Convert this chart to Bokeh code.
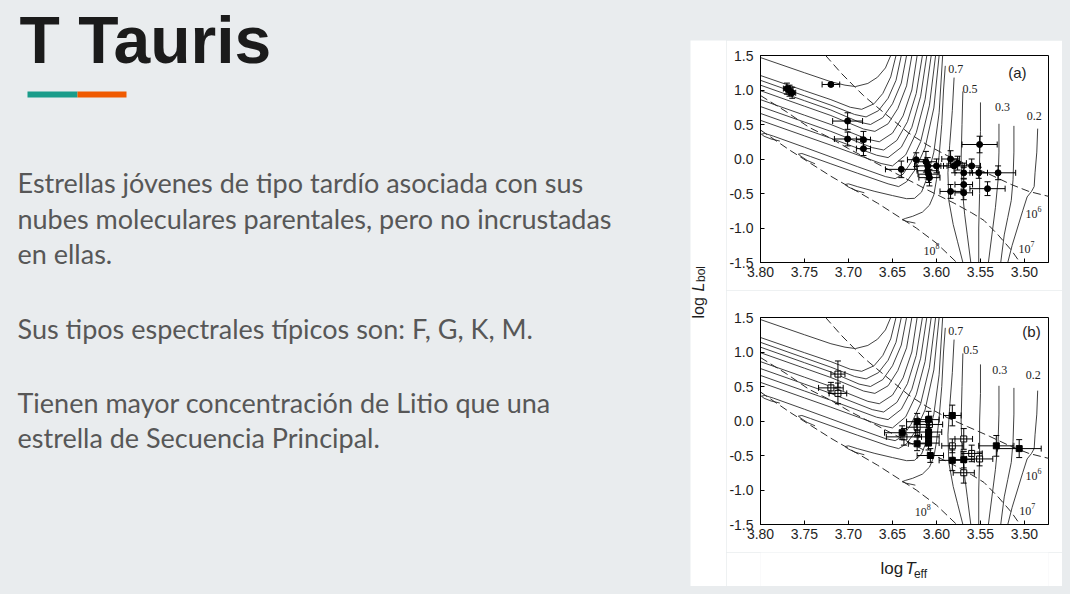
from math import pi

from bokeh.core.properties import value
from bokeh.embed import file_html
from bokeh.layouts import column, row
from bokeh.models import (ColumnDataSource, FixedTicker, GlobalInlineStyleSheet,
                          PrintfTickFormatter, Range1d, Spacer, TeeHead, Whisker)
from bokeh.plotting import figure
from bokeh.resources import INLINE

BG = "#e9ecee"
INK = "#2b2b2b"

# ---- slide text ----
title = "T Tauris"
body_lines = ["Estrellas jóvenes de tipo tardío asociada con sus",
              "nubes moleculares parentales, pero no incrustadas",
              "en ellas.",
              "Sus tipos espectrales típicos son: F, G, K, M.",
              "Tienen mayor concentración de Litio que una",
              "estrella de Secuencia Principal."]
body_y = [182, 218, 253, 328, 402, 437]
accent_colors = ["#1a9c8a", "#f05a00"]
accent_left = [27, 77]
accent_right = [77, 126]

# ---- HR diagram axes ----
teff_ticks = [3.80, 3.75, 3.70, 3.65, 3.60, 3.55, 3.50]
lbol_ticks = [-1.5, -1.0, -0.5, 0.0, 0.5, 1.0, 1.5]

# evolutionary tracks, upper bundle (leave through the left edge)
upper_T = [
    [3.800, 3.750, 3.720, 3.704, 3.692, 3.678, 3.667, 3.658, 3.652],
    [3.800, 3.750, 3.720, 3.698, 3.685, 3.671, 3.661, 3.652, 3.646],
    [3.800, 3.750, 3.720, 3.693, 3.680, 3.666, 3.655, 3.646, 3.640],
    [3.800, 3.750, 3.720, 3.688, 3.675, 3.661, 3.650, 3.640, 3.634],
    [3.800, 3.750, 3.720, 3.683, 3.670, 3.655, 3.644, 3.634, 3.628],
    [3.800, 3.750, 3.720, 3.678, 3.665, 3.650, 3.638, 3.628, 3.622],
    [3.800, 3.750, 3.720, 3.673, 3.660, 3.645, 3.633, 3.623, 3.616],
    [3.800, 3.750, 3.720, 3.668, 3.655, 3.640, 3.628, 3.618, 3.611],
    [3.800, 3.750, 3.720, 3.663, 3.650, 3.635, 3.623, 3.613, 3.606],
]
upper_L = [
    [1.47, 1.25, 1.12, 1.07, 1.05, 1.095, 1.185, 1.32, 1.50],
    [1.21, 0.99, 0.86, 0.75, 0.72, 0.80, 0.95, 1.19, 1.50],
    [1.14, 0.915, 0.78, 0.645, 0.61, 0.70, 0.88, 1.14, 1.50],
    [1.07, 0.845, 0.71, 0.535, 0.50, 0.60, 0.80, 1.10, 1.50],
    [0.99, 0.765, 0.63, 0.435, 0.40, 0.51, 0.73, 1.06, 1.50],
    [0.86, 0.635, 0.50, 0.285, 0.25, 0.375, 0.625, 1.00, 1.50],
    [0.76, 0.535, 0.40, 0.165, 0.13, 0.27, 0.54, 0.95, 1.50],
    [0.66, 0.435, 0.30, 0.055, 0.02, 0.17, 0.46, 0.91, 1.50],
    [0.56, 0.335, 0.20, -0.065, -0.10, 0.06, 0.38, 0.86, 1.50],
]

# tracks ending on the ZAMS with a small hook
hook_T = [
    [3.778, 3.788, 3.796, 3.799, 3.795, 3.785, 3.750, 3.720, 3.690, 3.658,
     3.647, 3.638, 3.629, 3.618, 3.608, 3.601],
    [3.738, 3.747, 3.754, 3.757, 3.753, 3.743, 3.720, 3.690, 3.655, 3.643,
     3.634, 3.624, 3.613, 3.603, 3.597],
    [3.682, 3.693, 3.701, 3.704, 3.700, 3.690, 3.670, 3.650, 3.634, 3.625,
     3.617, 3.610, 3.603, 3.597, 3.593],
    [3.590, 3.592, 3.594, 3.597, 3.600, 3.603, 3.608, 3.616, 3.627, 3.635,
     3.639, 3.635, 3.624],
]
hook_L = [
    [0.26, 0.29, 0.33, 0.36, 0.37, 0.33, 0.17, 0.03, -0.11, -0.255,
     -0.285, -0.22, -0.05, 0.25, 0.78, 1.50],
    [-0.07, -0.02, 0.04, 0.07, 0.08, 0.035, -0.07, -0.205, -0.36, -0.40,
     -0.33, -0.15, 0.16, 0.74, 1.50],
    [-0.49, -0.45, -0.40, -0.37, -0.36, -0.40, -0.47, -0.53, -0.575, -0.57,
     -0.48, -0.25, 0.10, 0.67, 1.50],
    [1.35, 1.00, 0.50, 0.05, -0.30, -0.52, -0.67, -0.77, -0.83, -0.86,
     -0.88, -0.90, -0.93],
]

# low-mass tracks (0.6, 0.5, 0.4, 0.3, 0.25, 0.2 Msun)
low_T = [
    [3.580, 3.582, 3.585, 3.587, 3.586, 3.581, 3.576, 3.570],
    [3.570, 3.571, 3.572, 3.571, 3.568, 3.565, 3.561],
    [3.550, 3.550, 3.551, 3.551, 3.552, 3.552],
    [3.529, 3.529, 3.530, 3.533, 3.537, 3.541],
    [3.512, 3.512, 3.513, 3.515, 3.519, 3.523, 3.527],
    [3.485, 3.486, 3.488, 3.489, 3.492, 3.497, 3.502, 3.508, 3.514, 3.519],
]
low_L = [
    [1.18, 0.70, 0.20, -0.20, -0.60, -0.95, -1.20, -1.50],
    [0.98, 0.50, 0.00, -0.40, -0.80, -1.10, -1.50],
    [0.82, 0.40, 0.00, -0.50, -1.00, -1.50],
    [0.51, 0.10, -0.30, -0.70, -1.10, -1.50],
    [0.48, 0.10, -0.30, -0.60, -0.85, -1.10, -1.50],
    [0.44, 0.10, -0.20, -0.40, -0.47, -0.55, -0.75, -1.00, -1.25, -1.50],
]

# isochrones 1e6, 1e7, 1e8 yr
iso6_T = [3.726, 3.708, 3.694, 3.683, 3.671, 3.652, 3.632, 3.610, 3.588, 3.565, 3.540, 3.515, 3.495, 3.470]
iso6_L = [1.50, 1.24, 1.06, 0.92, 0.79, 0.59, 0.38, 0.20, 0.05, -0.08, -0.22, -0.37, -0.47, -0.55]
iso7_T = [3.800, 3.770, 3.745, 3.720, 3.700, 3.670, 3.640, 3.610, 3.580, 3.560, 3.546, 3.530, 3.515, 3.505]
iso7_L = [0.92, 0.68, 0.46, 0.30, 0.15, -0.05, -0.25, -0.45, -0.64, -0.78, -0.89, -1.10, -1.32, -1.50]
iso8_T = [3.800, 3.767, 3.720, 3.667, 3.623, 3.600, 3.577]
iso8_L = [0.42, 0.13, -0.25, -0.64, -1.00, -1.22, -1.50]

mass_labels = ["0.7", "0.5", "0.3", "0.2"]
age_base = ["10", "10", "10"]
age_exp = ["6", "7", "8"]

# panel (a) stars
a_T = [3.770, 3.767, 3.764, 3.720, 3.701, 3.701, 3.683, 3.683, 3.640, 3.623,
       3.612, 3.610, 3.610, 3.609, 3.608, 3.600, 3.584, 3.580, 3.576, 3.569,
       3.560, 3.552, 3.551, 3.530, 3.569, 3.569, 3.584, 3.542]
a_L = [1.02, 0.99, 0.96, 1.08, 0.55, 0.29, 0.28, 0.15, -0.15, -0.01,
       -0.04, -0.10, -0.17, -0.22, -0.27, -0.10, 0.00, -0.10, -0.06, -0.20,
       -0.10, -0.20, 0.21, -0.20, -0.37, -0.49, -0.47, -0.43]
a_Terr = [0.004, 0.004, 0.004, 0.010, 0.017, 0.015, 0.008, 0.008, 0.018, 0.010,
          0.012, 0.015, 0.012, 0.012, 0.012, 0.012, 0.010, 0.012, 0.010, 0.010,
          0.010, 0.010, 0.020, 0.020, 0.010, 0.010, 0.012, 0.020]
a_Lerr = [0.08, 0.08, 0.08, 0.02, 0.12, 0.10, 0.12, 0.10, 0.12, 0.10,
          0.15, 0.12, 0.12, 0.12, 0.12, 0.10, 0.12, 0.10, 0.10, 0.08,
          0.10, 0.08, 0.12, 0.10, 0.08, 0.10, 0.10, 0.10]
a_label_T = [3.578, 3.562, 3.525, 3.489]
a_label_L = [1.31, 1.02, 0.75, 0.63]
a_age_T = [3.492, 3.500, 3.608]
a_age_L = [-0.795, -1.30, -1.34]

# panel (b) stars: open and filled squares
b_open_T = [3.712, 3.720, 3.712, 3.608, 3.637, 3.622, 3.582, 3.569, 3.560, 3.551, 3.569]
b_open_L = [0.68, 0.48, 0.40, -0.05, -0.23, -0.09, -0.36, -0.26, -0.47, -0.55, -0.75]
b_open_Terr = [0.008, 0.014, 0.010, 0.015, 0.020, 0.012, 0.012, 0.010, 0.012, 0.015, 0.012]
b_open_Lerr = [0.19, 0.08, 0.15, 0.12, 0.12, 0.12, 0.10, 0.15, 0.12, 0.10, 0.15]
b_fill_T = [3.639, 3.622, 3.622, 3.609, 3.609, 3.609, 3.609, 3.607, 3.582, 3.582, 3.569, 3.532, 3.506]
b_fill_L = [-0.17, -0.01, -0.33, 0.02, -0.16, -0.23, -0.32, -0.50, 0.08, -0.57, -0.56, -0.36, -0.40]
b_fill_Terr = [0.020, 0.012, 0.010, 0.012, 0.015, 0.012, 0.012, 0.015, 0.010, 0.015, 0.012, 0.020, 0.025]
b_fill_Lerr = [0.10, 0.12, 0.10, 0.12, 0.10, 0.10, 0.10, 0.10, 0.15, 0.15, 0.12, 0.15, 0.13]
b_label_T = [3.578, 3.561, 3.528, 3.490]
b_label_L = [1.30, 1.03, 0.74, 0.66]
b_age_T = [3.492, 3.499, 3.618]
b_age_L = [-0.79, -1.30, -1.32]


def blank(width, height, xr, yr, fill):
    p = figure(width=width, height=height, x_range=xr, y_range=yr,
               x_axis_type=None, y_axis_type=None, output_backend="svg",
               toolbar_location=None, min_border=0)
    p.background_fill_color = fill
    p.border_fill_color = fill
    p.outline_line_color = None
    p.grid.visible = False
    return p


def add_stars(p, T, L, Terr, Lerr, marker, fill):
    src = ColumnDataSource(dict(
        T=T, L=L,
        T_lo=[t - e for t, e in zip(T, Terr)], T_hi=[t + e for t, e in zip(T, Terr)],
        L_lo=[l - e for l, e in zip(L, Lerr)], L_hi=[l + e for l, e in zip(L, Lerr)]))
    for base, lo, hi, dim in (("T", "L_lo", "L_hi", "height"), ("L", "T_lo", "T_hi", "width")):
        p.add_layout(Whisker(source=src, base=base, lower=lo, upper=hi, dimension=dim,
                             line_color="black", line_width=1, level="glyph",
                             upper_head=TeeHead(size=6, line_color="black", line_width=1),
                             lower_head=TeeHead(size=6, line_color="black", line_width=1)))
    p.scatter("T", "L", source=src, marker=marker, size=6, fill_color=fill,
              line_color="black", line_width=1)


def hr_panel(tag, tag_T, tag_L, height, borders, label_T, label_L, age_T, age_L):
    left, right, top, bottom = borders
    p = figure(width=336, height=height, x_range=Range1d(3.80, 3.4727),
               y_range=Range1d(-1.5, 1.5), output_backend="svg", toolbar_location=None,
               min_border_left=left, min_border_right=right,
               min_border_top=top, min_border_bottom=bottom)
    p.background_fill_color = "white"
    p.border_fill_color = "white"
    p.outline_line_color = "black"
    p.outline_line_width = 1
    p.grid.visible = False
    p.xaxis.ticker = FixedTicker(ticks=teff_ticks)
    p.xaxis.formatter = PrintfTickFormatter(format="%.2f")
    p.yaxis.ticker = FixedTicker(ticks=lbol_ticks)
    p.yaxis.formatter = PrintfTickFormatter(format="%.1f")
    for ax in (p.xaxis, p.yaxis):
        ax.major_tick_in = 4
        ax.major_tick_out = 0
        ax.minor_tick_line_color = None
        ax.axis_line_color = "black"
        ax.major_tick_line_color = "black"
        ax.major_label_text_font = "Liberation Sans"
        ax.major_label_text_font_size = "14px"
        ax.major_label_text_color = "#1e1e1e"
    p.xaxis.major_label_standoff = 4
    p.yaxis.major_label_standoff = 7

    p.multi_line(xs=upper_T + hook_T + low_T, ys=upper_L + hook_L + low_L,
                 line_color=INK, line_width=0.9)
    for T, L in ((iso6_T, iso6_L), (iso7_T, iso7_L), (iso8_T, iso8_L)):
        p.line(T, L, line_color=INK, line_width=1, line_dash="8 4")

    p.text(x=label_T, y=label_L, text=mass_labels, text_font=value("Liberation Serif"),
           text_font_size="12px", text_color="#222222", text_align="center",
           text_baseline="middle")
    p.text(x=age_T, y=age_L, text=age_base, text_font=value("Liberation Serif"),
           text_font_size="12px", text_color="#222222", text_align="center",
           text_baseline="middle")
    p.text(x=age_T, y=age_L, text=age_exp, text_font=value("Liberation Serif"),
           text_font_size="8px", text_color="#222222", text_align="left",
           text_baseline="middle", x_offset=6, y_offset=-5)
    p.text(x=[tag_T], y=[tag_L], text=[tag], text_font=value("Liberation Sans"),
           text_font_size="15px", text_color="#222222", text_align="center",
           text_baseline="middle")
    return p


# ---- slide (data units are screen pixels) ----
slide = blank(690, 594, Range1d(0, 690), Range1d(594, 0), BG)
slide.quad(left=accent_left, right=accent_right, top=[91, 91], bottom=[97, 97],
           fill_color=accent_colors, line_color=None)
slide.text(x=[19], y=[39], text=[title], text_font=value("Liberation Sans"),
           text_font_style="bold", text_font_size="66px", text_color="#1b1b1b",
           text_baseline="alphabetic")
slide.text(x=[17] * len(body_lines), y=body_y, text=body_lines, text_font=value("Lato"),
           text_font_size="27px", text_color="#575757", text_baseline="alphabetic")

# ---- HR panels ----
fig_a = hr_panel("(a)", 3.508, 1.26, 250, (33, 14, 15, 28),
                 a_label_T, a_label_L, a_age_T, a_age_L)
add_stars(fig_a, a_T, a_L, a_Terr, a_Lerr, "circle", "black")

fig_b = hr_panel("(b)", 3.492, 1.29, 262, (34, 14, 27, 28),
                 b_label_T, b_label_L, b_age_T, b_age_L)
add_stars(fig_b, b_open_T, b_open_L, b_open_Terr, b_open_Lerr, "square", "white")
add_stars(fig_b, b_fill_T, b_fill_L, b_fill_Terr, b_fill_Lerr, "square", "black")

# shared y label, rotated
ylab = blank(36, 546, Range1d(690, 726), Range1d(-586, -40), "white")
ylab.text(x=[697.5, 697.5], y=[-318, -291], text=["log", "L"],
          text_font=value("Liberation Sans"), text_font_size="16px",
          text_font_style=["normal", "italic"], text_color="#1e1e1e",
          angle=pi / 2, text_align="left", text_baseline="alphabetic")
ylab.text(x=[700.5], y=[-281.5], text=["bol"], text_font=value("Liberation Sans"),
          text_font_size="12px", text_color="#1e1e1e", angle=pi / 2,
          text_align="left", text_baseline="alphabetic")

# x label
xlab = blank(336, 34, Range1d(726, 1062), Range1d(-586, -552), "white")
xlab.text(x=[866, 895], y=[-568, -568], text=["log", "T"],
          text_font=value("Liberation Sans"), text_font_size="17px",
          text_font_style=["normal", "italic"], text_color="#1e1e1e",
          text_align="left", text_baseline="alphabetic")
xlab.text(x=[905], y=[-573], text=["eff"], text_font=value("Liberation Sans"),
          text_font_size="12px", text_color="#1e1e1e", text_align="left",
          text_baseline="alphabetic")

right_side = column(Spacer(width=380, height=40),
                    row(ylab, column(fig_a, fig_b, xlab), Spacer(width=8, height=546)),
                    Spacer(width=380, height=8))
page = row(slide, right_side,
           stylesheets=[GlobalInlineStyleSheet(css="body { background-color: %s; margin: 0; }" % BG)])

open("out.html", "w").write(file_html(page, INLINE))
